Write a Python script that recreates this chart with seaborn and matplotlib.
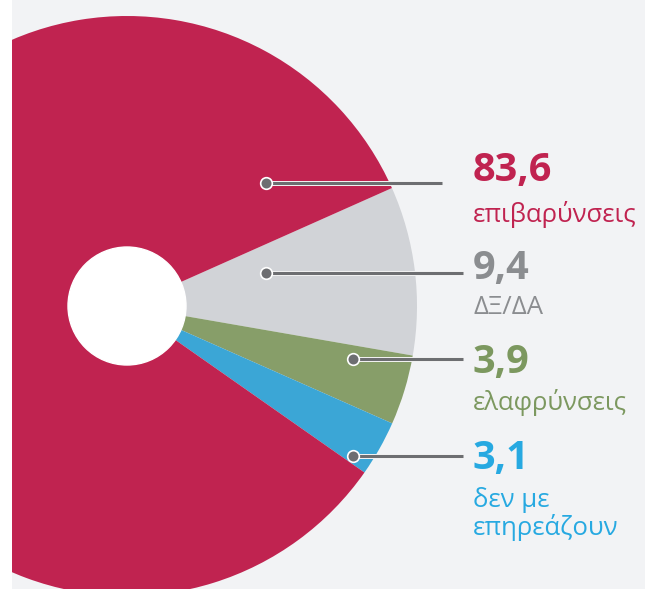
import matplotlib
matplotlib.use("Agg")
import matplotlib.pyplot as plt
import matplotlib.patheffects as pe
import seaborn as sns

# data
categories = ["ΔΞ/ΔΑ", "ελαφρύνσεις", "δεν με\nεπηρεάζουν", "επιβαρύνσεις"]
values = [9.4, 3.9, 3.1, 83.6]
value_labels = ["9,4", "3,9", "3,1", "83,6"]
slice_colors = ["#d1d3d7", "#879e69", "#3ba6d6", "#c02350"]
text_colors = ["#8b8d90", "#7c985f", "#27a9e1", "#c02350"]

sns.set_theme(style="white")
plt.rcParams["font.family"] = ["Open Sans", "DejaVu Sans"]

W, H = 645, 589
left = 12
fig = plt.figure(figsize=(W / 100, H / 100), dpi=100, facecolor="white")
ax = fig.add_axes([left / W, 0, (W - left) / W, 1])

# pie in pixel coordinates (y up)
cx, cy, r = 127, H - 306, 290
wedges, _ = ax.pie(values, colors=slice_colors, startangle=24.0, counterclock=False,
                   center=(cx, cy), radius=r, wedgeprops=dict(linewidth=0))
for w in wedges:
    w.set_clip_on(True)
ax.add_patch(plt.Circle((cx, cy), 59, color="white", zorder=3))
ax.set_xlim(left, W)
ax.set_ylim(0, H)
ax.set_aspect("equal")
ax.set_frame_on(True)
sns.despine(ax=ax, left=True, bottom=True)
ax.set_xticks([])
ax.set_yticks([])
ax.set_facecolor("#f2f3f5")

# callouts (layout, top-down y in pixels)
dot_x = [266, 353, 353, 266]
line_y = [273, 359, 456, 183]
line_end = [463, 463, 463, 442]
num_y = [269, 363, 459, 171]
lab_y = [308, 403, 514, 214]
tx = 473

for i in range(len(values)):
    y = H - line_y[i]
    ax.plot([dot_x[i], line_end[i]], [y, y], color="#6d6e71", lw=2.2, zorder=4,
            solid_capstyle="butt",
            path_effects=[pe.Stroke(linewidth=3.6, foreground="#f4f4f4"), pe.Normal()])
    ax.scatter([dot_x[i]], [y], s=70, color="#6d6e71", edgecolor="white",
               linewidth=1.2, zorder=5)
    ax.text(tx, H - num_y[i], value_labels[i], color=text_colors[i], fontsize=28.5,
            fontweight="bold", ha="left", va="center")
    ax.text(tx, H - lab_y[i], categories[i], color=text_colors[i], fontsize=18.5,
            ha="left", va="center", linespacing=1.05)

fig.savefig("out.png", dpi=100, facecolor="white")
